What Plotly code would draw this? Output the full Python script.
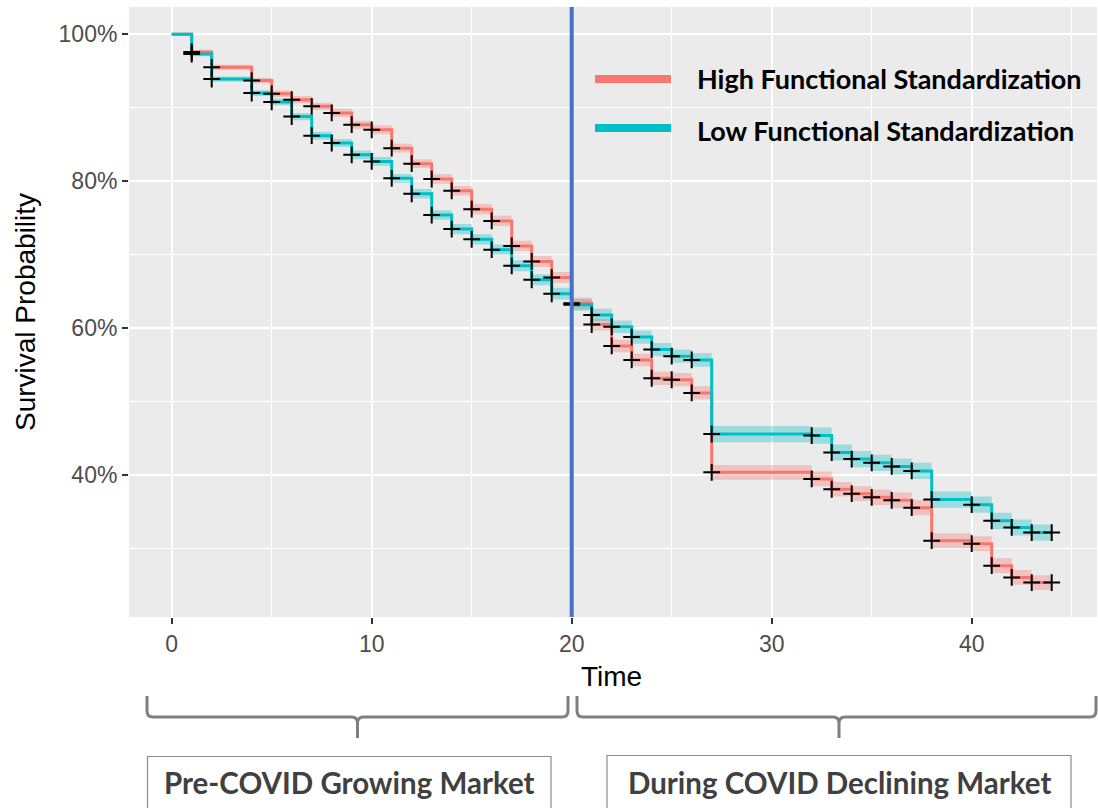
import plotly.graph_objects as go

# Kaplan-Meier survival estimates (%) at each event / censoring time
times = [0, 1, 2, 4, 5, 6, 7, 8, 9, 10,
         11, 12, 13, 14, 15, 16, 17, 18, 19, 20,
         21, 22, 23, 24, 25, 26, 27,
         32, 33, 34, 35, 36, 37, 38,
         40, 41, 42, 43, 44]
high_surv = [100, 97.6, 95.5, 93.7, 91.9, 91.1, 90.2, 89.3, 87.7, 87.0,
             84.5, 82.4, 80.3, 78.7, 76.2, 74.6, 71.2, 69.1, 66.9, 63.4,
             60.5, 57.6, 55.7, 53.2, 53.0, 51.2, 40.4,
             39.5, 38.1, 37.5, 37.0, 36.6, 35.6, 31.1,
             30.7, 27.7, 26.1, 25.4, 25.4]
low_surv = [100, 97.3, 93.9, 92.0, 90.8, 88.8, 86.2, 85.2, 83.6, 82.7,
            80.4, 78.3, 75.4, 73.5, 72.1, 70.7, 68.5, 66.6, 64.7, 63.2,
            61.8, 60.2, 58.8, 57.1, 56.2, 55.7, 45.6,
            45.4, 43.1, 42.2, 41.7, 41.2, 40.6, 36.7,
            36.0, 33.8, 32.9, 32.2, 32.2]
# half-width of the confidence ribbon (% points)
high_band = [0.0, 0.3, 0.35, 0.4, 0.45, 0.5, 0.5, 0.55, 0.55, 0.6,
             0.6, 0.6, 0.65, 0.65, 0.7, 0.7, 0.7, 0.75, 0.75, 0.8,
             0.8, 0.85, 0.85, 0.9, 0.9, 0.9, 1.0,
             1.0, 1.0, 1.0, 1.05, 1.05, 1.05, 1.0,
             1.0, 1.0, 1.0, 1.0, 1.0]
low_band = [0.0, 0.3, 0.35, 0.4, 0.45, 0.5, 0.55, 0.55, 0.6, 0.6,
            0.6, 0.65, 0.65, 0.7, 0.7, 0.7, 0.75, 0.75, 0.8, 0.8,
            0.85, 0.85, 0.9, 0.9, 0.9, 0.95, 1.1,
            1.1, 1.1, 1.1, 1.1, 1.1, 1.1, 1.1,
            1.1, 1.1, 1.1, 1.1, 1.1]

group_names = ["High Functional Standardization", "Low Functional Standardization"]
group_colors = ["#F8766D", "#00BFC4"]
band_colors = ["rgba(248,118,109,0.35)", "rgba(0,191,196,0.33)"]

covid_start = 20
period_labels = ["Pre-COVID Growing Market", "During COVID Declining Market"]
y_ticks = [40, 60, 80, 100]
y_tick_text = ["40%", "60%", "80%", "100%"]
x_ticks = [0, 10, 20, 30, 40]

# page geometry (pixels)
W, H = 1098, 808
ML, MR, MT, MB = 129, 1, 7, 191
PW, PH = W - ML - MR, H - MT - MB


def px(x):
    return (x - ML) / PW


def py(y):
    return (H - MB - y) / PH


fig = go.Figure()

series = [high_surv, low_surv]
bands = [high_band, low_band]

# confidence ribbons
for surv, band, col in zip(series, bands, band_colors):
    upper = [s + b for s, b in zip(surv, band)]
    lower = [s - b for s, b in zip(surv, band)]
    fig.add_trace(go.Scatter(x=times, y=upper, mode="lines", line=dict(width=0, shape="hv"),
                             hoverinfo="skip", showlegend=False))
    fig.add_trace(go.Scatter(x=times, y=lower, mode="lines", line=dict(width=0, shape="hv"),
                             fill="tonexty", fillcolor=col, hoverinfo="skip", showlegend=False))

# survival step curves
for surv, name, col in zip(series, group_names, group_colors):
    fig.add_trace(go.Scatter(x=times, y=surv, mode="lines", name=name,
                             line=dict(color=col, width=3, shape="hv"), showlegend=False))

# censoring marks
for surv in series:
    fig.add_trace(go.Scatter(x=times[1:], y=surv[1:], mode="markers",
                             marker=dict(symbol="cross-thin", size=12,
                                         line=dict(color="black", width=2)),
                             hoverinfo="skip", showlegend=False))

shapes = []
# market-phase divider
shapes.append(dict(type="line", xref="x", yref="paper", x0=covid_start, x1=covid_start,
                   y0=0, y1=1, line=dict(color="#4472C4", width=4), layer="above"))

# legend keys
legend_y = [79, 128]
for col, yy in zip(group_colors, legend_y):
    shapes.append(dict(type="line", xref="paper", yref="paper",
                       x0=px(595), x1=px(671), y0=py(yy), y1=py(yy),
                       line=dict(color=col, width=8), layer="above"))


def brace(x0, x1, xm, top=696, mid=717, tip=738, r=6):
    pts = [
        f"M {px(x0)},{py(top)}",
        f"L {px(x0)},{py(mid - r)}",
        f"Q {px(x0)},{py(mid)} {px(x0 + r)},{py(mid)}",
        f"L {px(xm - r)},{py(mid)}",
        f"Q {px(xm)},{py(mid)} {px(xm)},{py(mid + r)}",
        f"L {px(xm)},{py(tip)}",
        f"M {px(xm)},{py(mid + r)}",
        f"Q {px(xm)},{py(mid)} {px(xm + r)},{py(mid)}",
        f"L {px(x1 - r)},{py(mid)}",
        f"Q {px(x1)},{py(mid)} {px(x1)},{py(mid - r)}",
        f"L {px(x1)},{py(top)}",
    ]
    return " ".join(pts)


brace_color = "#7F7F7F"
shapes.append(dict(type="path", xref="paper", yref="paper",
                   path=brace(147, 568, 357.5), line=dict(color=brace_color, width=3)))
shapes.append(dict(type="path", xref="paper", yref="paper",
                   path=brace(577, 1096, 839), line=dict(color=brace_color, width=3)))

# period label boxes
boxes = [(147.5, 551, 756.5), (607, 1071, 755.5)]
for x0, x1, y0 in boxes:
    shapes.append(dict(type="rect", xref="paper", yref="paper",
                       x0=px(x0), x1=px(x1), y0=py(y0), y1=py(815),
                       line=dict(color="#8C8C8C", width=1.2), fillcolor="rgba(0,0,0,0)"))

annotations = []
for name, yy in zip(group_names, [78, 130]):
    annotations.append(dict(xref="paper", yref="paper", x=px(695), y=py(yy),
                            xanchor="left", yanchor="middle", showarrow=False,
                            text=f"<b>{name}</b>",
                            font=dict(family="Lato", size=27, color="black")))
for (x0, x1, y0), label in zip(boxes, period_labels):
    annotations.append(dict(xref="paper", yref="paper", x=px((x0 + x1) / 2), y=py(782),
                            xanchor="center", yanchor="middle", showarrow=False,
                            text=f"<b>{label}</b>",
                            font=dict(family="Lato", size=29.5, color="#404040")))

# axis titles
annotations.append(dict(xref="paper", yref="paper", x=px(611), y=py(676),
                        xanchor="center", yanchor="middle", showarrow=False, text="Time",
                        font=dict(family="Liberation Sans", size=28, color="black")))
annotations.append(dict(xref="paper", yref="paper", x=px(25), y=py(312),
                        xanchor="center", yanchor="middle", showarrow=False,
                        text="Survival Probability", textangle=-90,
                        font=dict(family="Liberation Sans", size=28, color="black")))

fig.update_layout(
    width=W, height=H,
    margin=dict(l=ML, r=MR, t=MT, b=MB, pad=0),
    paper_bgcolor="white", plot_bgcolor="#EBEBEB",
    showlegend=False,
    shapes=shapes, annotations=annotations,
    font=dict(family="Liberation Sans"),
)

fig.update_xaxes(
    range=[-2.135, 46.265], tickvals=x_ticks, showgrid=True, gridcolor="white", gridwidth=2,
    minor=dict(dtick=5, tick0=0, showgrid=True, gridcolor="white", gridwidth=1),
    zeroline=False, ticks="outside", ticklen=6, tickwidth=2, tickcolor="#333333",
    tickfont=dict(family="Liberation Sans", size=23, color="#4D4D4D"),
    showline=False,
)
fig.update_yaxes(
    range=[20.72, 103.71], tickvals=y_ticks, ticktext=y_tick_text, showgrid=True,
    gridcolor="white", gridwidth=2,
    minor=dict(dtick=10, tick0=0, showgrid=True, gridcolor="white", gridwidth=1),
    zeroline=False, ticks="outside", ticklen=6, tickwidth=2, tickcolor="#333333",
    tickfont=dict(family="Liberation Sans", size=23, color="#4D4D4D"),
    showline=False,
)

fig.write_html("out.html")
